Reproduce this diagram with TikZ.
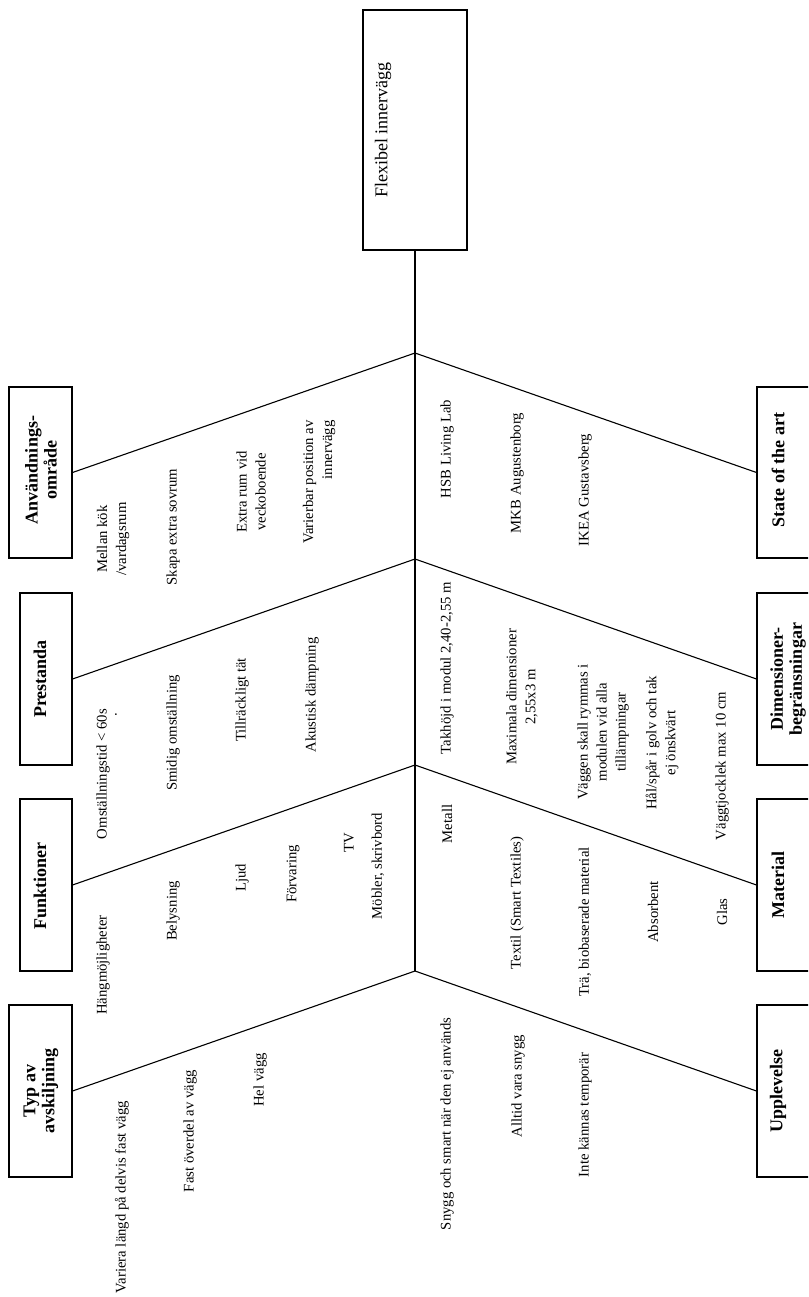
\documentclass[tikz,border=0pt]{standalone}
\usepackage{fontspec}
\setmainfont{Liberation Serif}
\begin{document}
\begin{tikzpicture}[x=1pt,y=-1pt,
  box/.style={draw, line width=1.1pt, inner sep=0pt},
  bone/.style={line width=1.1pt},
  item/.style={rotate=90, font=\fontsize{14.7}{19}\selectfont, inner sep=0pt, align=center},
  cat/.style={rotate=90, font=\fontsize{18}{19}\selectfont\bfseries, inner sep=0pt, align=center},
  headtxt/.style={rotate=90, font=\fontsize{18}{20}\selectfont, inner sep=0pt}]
\useasboundingbox (0,0) rectangle (808,1297);
\clip (0,0) rectangle (808,1297);

% head
\node[box, minimum width=104pt, minimum height=240pt] (head) at (415,130) {};
\node[headtxt] (headlabel) at (383,130) {Flexibel innervägg};

% spine junctions
\coordinate (j1) at (415,353);
\coordinate (j2) at (415,559);
\coordinate (j3) at (415,765);
\coordinate (j4) at (415,971);
\draw[bone] (head.south) -- (j4);

% left category boxes
\node[box, minimum width=63pt, minimum height=171pt] (bA) at (40.5,472.5) {};
\node[box, minimum width=52pt, minimum height=172pt] (bP) at (46,679) {};
\node[box, minimum width=52pt, minimum height=172pt] (bF) at (46,885) {};
\node[box, minimum width=63pt, minimum height=172pt] (bT) at (40.5,1091) {};
% right category boxes (cut by the page edge)
\node[box, minimum width=73pt, minimum height=171pt] (bS) at (793.5,472.5) {};
\node[box, minimum width=73pt, minimum height=172pt] (bD) at (793.5,679) {};
\node[box, minimum width=73pt, minimum height=172pt] (bM) at (793.5,885) {};
\node[box, minimum width=73pt, minimum height=172pt] (bU) at (793.5,1091) {};

% bones
\draw[bone] (j1) -- (bA.east);
\draw[bone] (j2) -- (bP.east);
\draw[bone] (j3) -- (bF.east);
\draw[bone] (j4) -- (bT.east);
\draw[bone] (j1) -- (bS.west);
\draw[bone] (j2) -- (bD.west);
\draw[bone] (j3) -- (bM.west);
\draw[bone] (j4) -- (bU.west);

% category labels
\node[cat] (tA) at (41,470) {Användnings-\\område};
\node[cat] (tP) at (40,679) {Prestanda};
\node[cat] (tF) at (40,886) {Funktioner};
\node[cat] (tT) at (41,1091) {Typ av\\avskiljning};
\node[cat] (tS) at (778,470) {State of the art};
\node[cat] (tD) at (788,679) {Dimensioner-\\begränsningar};
\node[cat] (tM) at (778,885) {Material};
\node[cat] (tU) at (778,1091) {Upplevelse};

% Användningsområde
\node[item] (a1) at (113,539) {Mellan kök\\/vardagsrum};
\node[item] (a2) at (173,527) {Skapa extra sovrum};
\node[item] (a3) at (251,492) {Extra rum vid\\veckoboende};
\node[item, align=right] (a4) at (319,482) {Varierbar position av\\innervägg};

% Prestanda
\node[item] (p1) at (103,774) {Omställningstid < 60s};
\node[item] (p1dot) at (116,715) {.};
\node[item] (p2) at (173,733) {Smidig omställning};
\node[item] (p3) at (242,700) {Tillräckligt tät};
\node[item] (p4) at (312,695) {Akustisk dämpning};

% Funktioner
\node[item] (f1) at (103,965) {Hängmöjligheter};
\node[item] (f2) at (173,911) {Belysning};
\node[item] (f3) at (242,878) {Ljud};
\node[item] (f4) at (293,874) {Förvaring};
\node[item] (f5) at (349,843) {TV};
\node[item] (f6) at (378,866) {Möbler, skrivbord};

% Typ av avskiljning
\node[item] (t1) at (122,1197) {Variera längd på delvis fast vägg};
\node[item] (t2) at (190,1131) {Fast överdel av vägg};
\node[item] (t3) at (260,1080) {Hel vägg};

% State of the art
\node[item] (s1) at (447,449) {HSB Living Lab};
\node[item] (s2) at (517,473) {MKB Augustenborg};
\node[item] (s3) at (585,490) {IKEA Gustavsberg};

% Dimensionerbegränsningar
\node[item] (d1) at (447,668) {Takhöjd i modul 2,40-2,55 m};
\node[item] (d2) at (522,697) {Maximala dimensioner\\2,55x3 m};
\node[item] (d3) at (603,732) {Väggen skall rymmas i\\modulen vid alla\\tillämpningar};
\node[item] (d4) at (662,743) {Hål/spår i golv och tak\\ej önskvärt};
\node[item] (d5) at (722,766) {Väggtjocklek max 10 cm};

% Material
\node[item] (m1) at (447,824) {Metall};
\node[item] (m2) at (517,903) {Textil (Smart Textiles)};
\node[item] (m3) at (585,922) {Trä, biobaserade material};
\node[item] (m4) at (653,912) {Absorbent};
\node[item] (m5) at (722,912) {Glas};

% Upplevelse
\node[item] (u1) at (447,1124) {Snygg och smart när den ej används};
\node[item] (u2) at (518,1086) {Alltid vara snygg};
\node[item] (u3) at (585,1115) {Inte kännas temporär};
\end{tikzpicture}
\end{document}
